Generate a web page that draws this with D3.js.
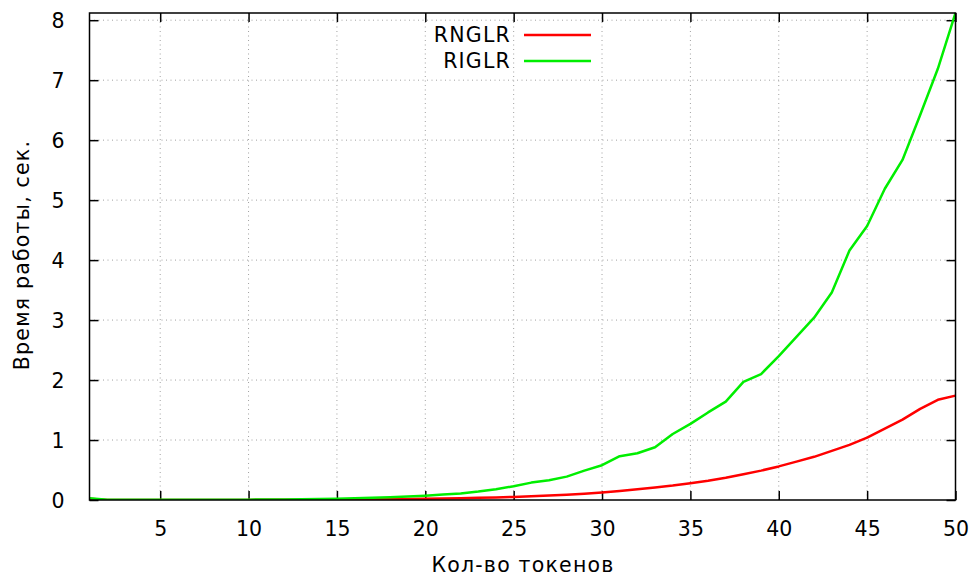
<!DOCTYPE html>
<html><head><meta charset="utf-8">
<script src="https://cdn.jsdelivr.net/npm/d3@7"></script>
<style>body{margin:0;background:#fff}svg{display:block}text{font-family:"DejaVu Sans",sans-serif;fill:#000}</style>
</head><body>
<svg id="c" width="976" height="576"></svg>
<script>
const tokens = [1,2,3,4,5,6,7,8,9,10,11,12,13,14,15,16,17,18,19,20,21,22,23,24,25,26,27,28,29,30,31,32,33,34,35,36,37,38,39,40,41,42,43,44,45,46,47,48,49,50];
const rnglr = [0.02,0.002,0.002,0.002,0.002,0.002,0.002,0.002,0.002,0.002,0.003,0.004,0.005,0.006,0.008,0.01,0.012,0.015,0.018,0.022,0.026,0.03,0.036,0.043,0.052,0.062,0.074,0.088,0.105,0.125,0.15,0.18,0.21,0.24,0.28,0.32,0.37,0.43,0.49,0.56,0.64,0.72,0.82,0.92,1.04,1.19,1.34,1.52,1.67,1.74];
const riglr = [0.03,0.005,0.003,0.003,0.003,0.003,0.004,0.004,0.005,0.006,0.008,0.01,0.013,0.017,0.022,0.028,0.036,0.046,0.058,0.072,0.09,0.11,0.14,0.18,0.23,0.29,0.33,0.39,0.49,0.58,0.73,0.78,0.88,1.10,1.27,1.46,1.64,1.97,2.10,2.40,2.72,3.04,3.46,4.16,4.57,5.19,5.67,6.42,7.19,8.12];
const xTicks = [5,10,15,20,25,30,35,40,45,50];
const yTicks = [0,1,2,3,4,5,6,7,8];
const seriesNames = ["RNGLR","RIGLR"];
const seriesColors = ["#ff0000","#00ee00"];
const xLabel = "Кол-во токенов";
const yLabel = "Время работы, сек.";

const FS=20.5, LS=1.2;
const L=89.5, R=955.5, T=13, B=500;
const svg=d3.select("#c");
const x=d3.scaleLinear().domain([1,50]).range([L,R]);
const y=d3.scaleLinear().domain([0,8.12]).range([B,T]);

// grid
const g=svg.append("g");
g.selectAll("line.gx").data(xTicks.filter(d=>d<50)).enter().append("line")
 .attr("x1",d=>x(d)).attr("x2",d=>x(d)).attr("y1",B).attr("y2",T)
 .attr("stroke","#a0a0a0").attr("stroke-width",1).attr("stroke-dasharray","1,3.5");
g.selectAll("line.gy").data(yTicks.filter(d=>d>0)).enter().append("line")
 .attr("x1",L).attr("x2",R).attr("y1",d=>y(d)).attr("y2",d=>y(d))
 .attr("stroke","#a0a0a0").attr("stroke-width",1).attr("stroke-dasharray","1,3.5");

// axes with inward and mirrored ticks
const tl=9;
svg.append("g").attr("transform",`translate(0,${B})`)
 .call(d3.axisBottom(x).tickValues(xTicks).tickSize(-tl).tickPadding(21))
 .call(a=>{a.select(".domain").remove();a.selectAll("text").attr("font-size",FS).attr("font-family","DejaVu Sans");a.selectAll("line").attr("stroke-width",1.5);});
svg.append("g").attr("transform",`translate(0,${T})`)
 .call(d3.axisTop(x).tickValues(xTicks).tickSize(-tl).tickFormat(""))
 .call(a=>{a.select(".domain").remove();a.selectAll("line").attr("stroke-width",1.5);});
svg.append("g").attr("transform",`translate(${L},0)`)
 .call(d3.axisLeft(y).tickValues(yTicks).tickSize(-tl).tickPadding(25))
 .call(a=>{a.select(".domain").remove();a.selectAll("text").attr("font-size",FS).attr("font-family","DejaVu Sans").attr("dy","0.36em");a.selectAll("line").attr("stroke-width",1.5);});
svg.append("g").attr("transform",`translate(${R},0)`)
 .call(d3.axisRight(y).tickValues(yTicks).tickSize(-tl).tickFormat(""))
 .call(a=>{a.select(".domain").remove();a.selectAll("line").attr("stroke-width",1.5);});

// lines
svg.append("clipPath").attr("id","clip").append("rect").attr("x",L).attr("y",T-2).attr("width",R-L).attr("height",B-T+2);
const line=d3.line().x(d=>x(d[0])).y(d=>y(d[1]));
[rnglr,riglr].forEach((s,i)=>{
 svg.append("path").datum(tokens.map((t,j)=>[t,s[j]])).attr("d",line)
  .attr("fill","none").attr("stroke",seriesColors[i]).attr("stroke-width",2.5)
  .attr("stroke-linejoin","round").attr("clip-path","url(#clip)");
});

// frame
svg.append("rect").attr("x",L).attr("y",T).attr("width",R-L).attr("height",B-T)
 .attr("fill","none").attr("stroke","#000").attr("stroke-width",1.5);

// legend
seriesNames.forEach((n,i)=>{
 const yy=35+i*26;
 svg.append("text").attr("x",511).attr("y",yy).attr("dy","0.36em").attr("text-anchor","end").attr("font-size",FS).attr("letter-spacing",LS).text(n);
 svg.append("line").attr("x1",524).attr("x2",591).attr("y1",yy).attr("y2",yy).attr("stroke",seriesColors[i]).attr("stroke-width",2.5);
});

// labels
svg.append("text").attr("x",523).attr("y",572).attr("text-anchor","middle").attr("font-size",FS).attr("letter-spacing",LS).text(xLabel);
svg.append("text").attr("transform","translate(29,255) rotate(-90)").attr("text-anchor","middle").attr("font-size",FS).attr("letter-spacing",LS).text(yLabel);
</script>
</body></html>
